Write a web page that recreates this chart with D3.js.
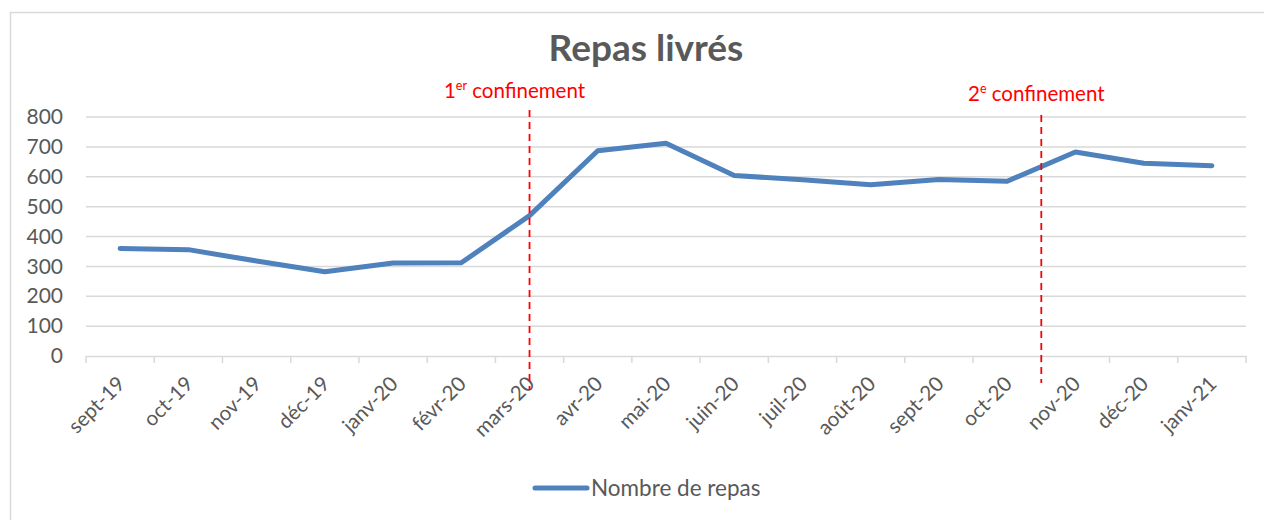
<!DOCTYPE html>
<html><head><meta charset="utf-8">
<script src="https://cdn.jsdelivr.net/npm/d3@7"></script>
<style>body{margin:0;background:#fff;} svg{display:block;font-family:Lato,"Open Sans",sans-serif;}</style>
</head><body>
<svg id="c" width="1264" height="520"></svg>
<script>
const months = ["sept-19","oct-19","nov-19","déc-19","janv-20","févr-20","mars-20","avr-20","mai-20","juin-20","juil-20","août-20","sept-20","oct-20","nov-20","déc-20","janv-21"];
const repas = [360,356,318,282,311,312,470,687,712,604,590,573,591,585,683,645,637];
const yTicks = [0,100,200,300,400,500,600,700,800];
const seriesName = "Nombre de repas";
const titleText = "Repas livrés";
const events = [{at:"mars-20", pos:"center", sup:"er", num:"1", label:" confinement"},
                {at:"nov-20", pos:"start", sup:"e", num:"2", label:" confinement"}];

const svg = d3.select("#c");
const grey = "#595959";
svg.append("rect").attr("x",10.5).attr("y",12.5).attr("width",1300).attr("height",600)
  .attr("fill","#fff").attr("stroke","#d9d9d9").attr("stroke-width",1.5);

const x = d3.scaleBand().domain(months).range([86,1246]);
const y = d3.scaleLinear().domain([0,800]).range([356,117]);

// gridlines
svg.append("g").selectAll("line").data(yTicks.filter(d=>d>0)).join("line")
  .attr("x1",86).attr("x2",1246).attr("y1",d=>y(d)).attr("y2",d=>y(d))
  .attr("stroke","#d9d9d9").attr("stroke-width",1.5);

// y axis labels
const ya = svg.append("g").attr("transform","translate(86,0)")
  .call(d3.axisLeft(y).tickValues(yTicks).tickSize(0).tickPadding(23));
ya.select(".domain").remove();
ya.selectAll("text").attr("font-size",21).attr("fill",grey).attr("font-family","Lato,'Open Sans',sans-serif");

// x axis
const xa = svg.append("g").attr("transform",`translate(0,${y(0)})`)
  .call(d3.axisBottom(x).tickSize(0));
xa.select(".domain").attr("stroke","#d9d9d9").attr("stroke-width",1.5);
xa.selectAll(".tick line").remove();
const bounds = months.map(m=>x(m)).concat([x(months[months.length-1])+x.bandwidth()]);
xa.selectAll("line.tk").data(bounds).join("line").attr("class","tk")
  .attr("x1",d=>d).attr("x2",d=>d).attr("y1",0).attr("y2",7)
  .attr("stroke","#d9d9d9").attr("stroke-width",1.5);
xa.selectAll(".tick text")
  .attr("font-size",20.5).attr("fill",grey).attr("font-family","Lato,'Open Sans',sans-serif")
  .attr("text-anchor","end").attr("dy",0)
  .attr("transform","translate(4,27) rotate(-45)");

// line
const line = d3.line().x((d,i)=>x(months[i])+x.bandwidth()/2).y(d=>y(d));
svg.append("path").datum(repas).attr("d",line).attr("fill","none")
  .attr("stroke","#4f81bd").attr("stroke-width",5).attr("stroke-linecap","round").attr("stroke-linejoin","round");

// events
events.forEach((e,k)=>{
  const xp = e.pos==="center" ? x(e.at)+x.bandwidth()/2 : x(e.at);
  const y1 = k===0 ? 110 : 115, y2 = k===0 ? 390 : 383;
  svg.append("line").attr("x1",xp).attr("x2",xp).attr("y1",y1).attr("y2",y2)
    .attr("stroke","#ff0000").attr("stroke-width",1.8).attr("stroke-dasharray","7,5");
  const t = svg.append("text").attr("x",xp-(k===0?15:5)).attr("y",k===0?98:101).attr("text-anchor","middle")
    .attr("fill","#ff0000").attr("font-size",20.5);
  t.append("tspan").text(e.num);
  t.append("tspan").text(e.sup).attr("font-size",12.5).attr("dy",-8);
  t.append("tspan").text(e.label).attr("dy",8);
});

// title
svg.append("text").attr("x",646).attr("y",61).attr("text-anchor","middle")
  .attr("font-size",37).attr("font-weight","bold").attr("fill",grey).text(titleText);

// legend
svg.append("line").attr("x1",535).attr("x2",587).attr("y1",488).attr("y2",488)
  .attr("stroke","#4f81bd").attr("stroke-width",5).attr("stroke-linecap","round");
svg.append("text").attr("x",591).attr("y",496).attr("font-size",22.5).attr("fill",grey).text(seriesName);
</script>
</body></html>
